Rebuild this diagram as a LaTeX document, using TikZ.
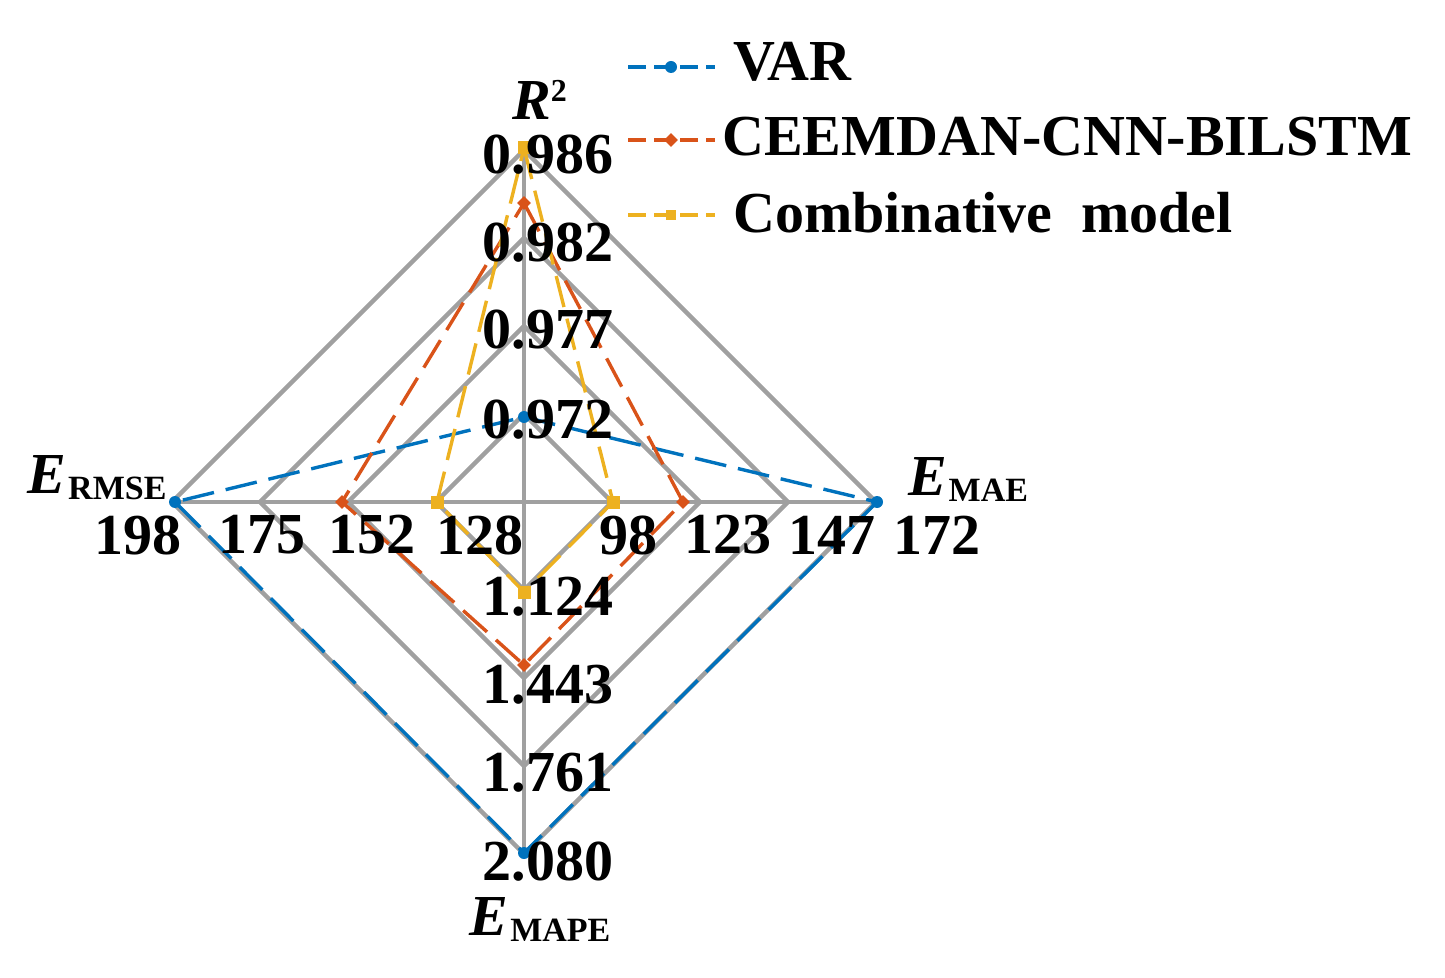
\documentclass[tikz,border=0pt]{standalone}
\usepackage{fontspec}
\setmainfont{Liberation Serif}
\usetikzlibrary{shapes.geometric}
\definecolor{cvar}{RGB}{0,114,189}
\definecolor{cceem}{RGB}{217,83,25}
\definecolor{ccomb}{RGB}{237,177,32}
\definecolor{cgrid}{RGB}{160,160,160}
\begin{document}
\begin{tikzpicture}[x=0.5pt,y=-0.5pt,
  grid/.style={draw=cgrid,line width=2.2pt},
  ser/.style={line width=1.7pt,dash pattern=on 16pt off 6pt},
  lab/.style={font=\fontsize{29}{30}\selectfont\bfseries,inner sep=0pt},
  leg/.style={font=\fontsize{29}{30}\selectfont\bfseries,inner sep=0pt,anchor=west},
  dot/.style={circle,fill,inner sep=0pt,minimum size=6pt},
  dia/.style={diamond,fill,inner sep=0pt,minimum size=7pt},
  sq/.style={rectangle,fill,inner sep=0pt,minimum size=5pt}]
\useasboundingbox (0,0) rectangle (1445,978);
\coordinate (O) at (524,502);
% grid
\foreach \r in {88,176,264,352}{
  \draw[grid] (524,502-\r) -- (524+\r,502) -- (524,502+\r) -- (524-\r,502) -- cycle;}
\draw[grid] (524,150) -- (524,853);
\draw[grid] (172,502) -- (877,502);
% series
\draw[ser,cvar] (524,417) -- (877,502) -- (524,853) -- (175,502) -- cycle;
\draw[ser,cceem] (524,203) -- (683,502) -- (524,665) -- (342,502) -- cycle;
\draw[ser,ccomb] (524,148) -- (613,502) -- (524,592) -- (437,502) -- cycle;
\foreach \p in {(524,417),(877,502),(524,853),(175,502)} \node[dot,cvar] at \p {};
\foreach \p in {(524,203),(683,502),(524,665),(342,502)} \node[dia,cceem] at \p {};
\foreach \p in {(524,148),(613,502),(524,592),(437,502)} \node[sq,ccomb,minimum size=6.5pt] at \p {};
% labels
\node[lab] (t1) at (548,155) {0.986};
\node[lab] (t2) at (548,243) {0.982};
\node[lab] (t3) at (548,330) {0.977};
\node[lab] (t4) at (548,420) {0.972};
\node[lab] (b1) at (548,597) {1.124};
\node[lab] (b2) at (548,685) {1.443};
\node[lab] (b3) at (548,773) {1.761};
\node[lab] (b4) at (548,862) {2.080};
\node[lab] (l1) at (138,535) {198};
\node[lab] (l2) at (262,535) {175};
\node[lab] (l3) at (372,535) {152};
\node[lab] (l4) at (480,535) {128};
\node[lab] (r1) at (628,535) {98};
\node[lab] (r2) at (728,535) {123};
\node[lab] (r3) at (832,535) {147};
\node[lab] (r4) at (937,535) {172};
\node[lab] (aR) at (540,100) {\itshape R\textsuperscript{\upshape\fontsize{16}{16}\selectfont 2}};
\node[lab] (aL) at (97,478) {\itshape E\kern1pt{\upshape\fontsize{17}{17}\selectfont\raisebox{-3pt}{RMSE}}};
\node[lab] (aRt) at (968,480) {\itshape E\kern1pt{\upshape\fontsize{17}{17}\selectfont\raisebox{-3pt}{MAE}}};
\node[lab] (aB) at (540,920) {\itshape E\kern1pt{\upshape\fontsize{17}{17}\selectfont\raisebox{-3pt}{MAPE}}};
% legend
\coordinate (v1) at (628,67); \coordinate (v2) at (715,67);
\coordinate (c1) at (628,140); \coordinate (c2) at (715,140);
\coordinate (m1) at (628,215); \coordinate (m2) at (715,215);
\draw[cvar,line width=1.6pt,dash pattern=on 9pt off 4pt] (v1) -- (v2);
\draw[cceem,line width=1.6pt,dash pattern=on 9pt off 4pt] (c1) -- (c2);
\draw[ccomb,line width=1.6pt,dash pattern=on 9pt off 4pt] (m1) -- (m2);
\node[dot,cvar] at (671,67) {};
\node[dia,cceem] at (671,140) {};
\node[sq,ccomb] at (671,215) {};
\node[leg] (lv) at (733,62) {VAR};
\node[leg] (lc) at (722,137) {CEEMDAN-CNN-BILSTM};
\node[leg] (lm) at (733,213) {Combinative\ \ model};
\end{tikzpicture}
\end{document}
